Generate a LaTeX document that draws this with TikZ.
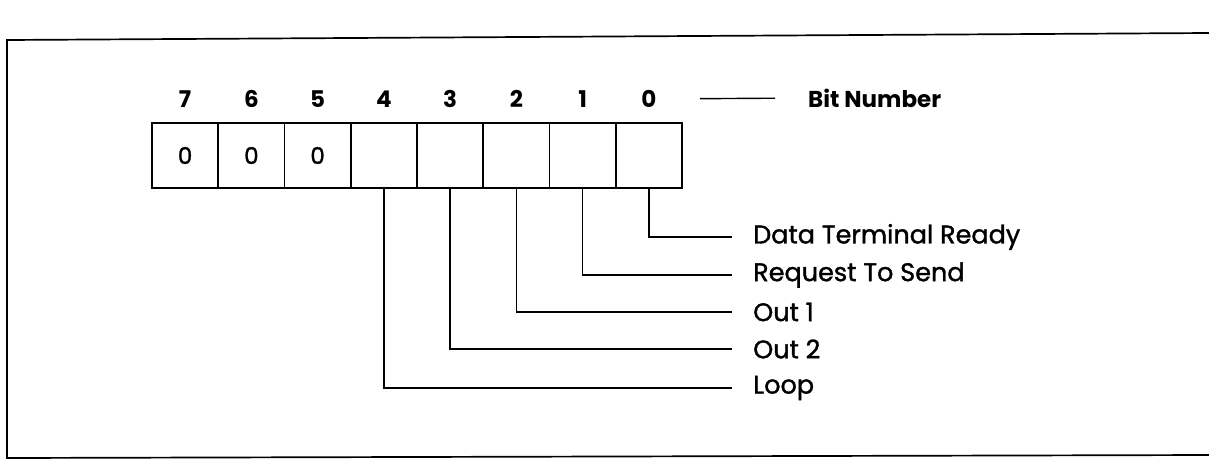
\documentclass[tikz,border=0pt]{standalone}
\usepackage{fontspec}
\setmainfont{Poppins}
\newfontfamily\medfont{Poppins}[FakeBold=1.3]
\usetikzlibrary{positioning}

\begin{document}
\begin{tikzpicture}[
    x=1pt, y=-1pt,
    cell/.style={rectangle, draw=black, line width=1.5pt, minimum width=66.25pt, minimum height=65pt, inner sep=0pt, font=\medfont\fontsize{23}{26}\selectfont},
    bitno/.style={inner sep=0pt, font=\bfseries\fontsize{23}{26}\selectfont},
    sig/.style={anchor=west, inner sep=0pt, font=\medfont\fontsize{25.5}{28}\selectfont},
    wire/.style={line width=1.4pt}
]
    \useasboundingbox (0,0) rectangle (1209,461);

    % Frame (open on the right)
    \draw[line width=1.7pt] (1209,33) -- (7,40) -- (7,458) -- (1209,455);

    % Register cells, bit 7 to bit 0
    \node[cell] (b7) at (185.1,155.5) {0};
    \node[cell] (b6) at (251.4,155.5) {0};
    \node[cell] (b5) at (317.6,155.5) {0};
    \node[cell] (b4) at (383.9,155.5) {};
    \node[cell] (b3) at (450.1,155.5) {};
    \node[cell] (b2) at (516.4,155.5) {};
    \node[cell] (b1) at (582.6,155.5) {};
    \node[cell] (b0) at (648.9,155.5) {};

    % Bit numbers
    \node[bitno] (n7) at (185.1,99) {7};
    \node[bitno] (n6) at (251.4,99) {6};
    \node[bitno] (n5) at (317.6,99) {5};
    \node[bitno] (n4) at (383.9,99) {4};
    \node[bitno] (n3) at (450.1,99) {3};
    \node[bitno] (n2) at (516.4,99) {2};
    \node[bitno] (n1) at (582.6,99) {1};
    \node[bitno] (n0) at (648.9,99) {0};
    \node[bitno, anchor=west] (bitnum) at (808,98) {Bit Number};
    \draw[wire, shorten <=51pt, shorten >=33pt] (n0.center) -- (bitnum.west);

    % Signal names
    \node[sig] (dtr) at (753,237) {Data Terminal Ready};
    \node[sig] (rts) at (753,275) {Request To Send};
    \node[sig] (out1) at (753,312) {Out 1};
    \node[sig] (out2) at (753,349) {Out 2};
    \node[sig] (loop) at (753,388) {Loop};

    % Drops from the cells
    \draw[wire, shorten >=21pt] (b0.south) |- (dtr.west);
    \draw[wire, shorten >=21pt] (b1.south) |- (rts.west);
    \draw[wire, shorten >=21pt] (b2.south) |- (out1.west);
    \draw[wire, shorten >=21pt] (b3.south) |- (out2.west);
    \draw[wire, shorten >=21pt] (b4.south) |- (loop.west);
\end{tikzpicture}
\end{document}
